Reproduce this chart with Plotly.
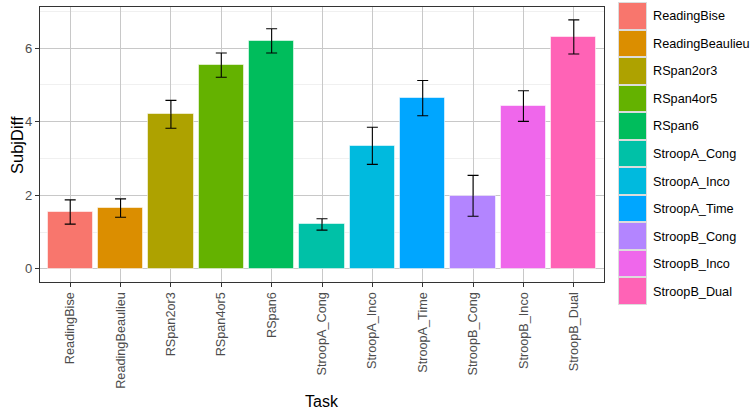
import plotly.graph_objects as go

tasks = ["ReadingBise", "ReadingBeaulieu", "RSpan2or3", "RSpan4or5", "RSpan6",
         "StroopA_Cong", "StroopA_Inco", "StroopA_Time", "StroopB_Cong",
         "StroopB_Inco", "StroopB_Dual"]
subj_diff = [1.545, 1.65, 4.20, 5.54, 6.20, 1.205, 3.345, 4.64, 1.985, 4.425, 6.305]
se = [0.33, 0.25, 0.38, 0.33, 0.33, 0.155, 0.505, 0.48, 0.555, 0.415, 0.465]
colors = ["#F8766D", "#DB8E00", "#AEA200", "#64B200", "#00BD5C", "#00C1A7",
          "#00BADE", "#00A6FF", "#B385FF", "#EF67EB", "#FF63B6"]
y_ticks = [0, 2, 4, 6]

W, H = 751, 413
L = 40
PW = W - L
font = "Liberation Sans, Arial, sans-serif"

fig = go.Figure()
fig.add_trace(go.Bar(
    x=tasks, y=subj_diff, width=0.9,
    marker=dict(color=colors, line=dict(color="rgba(255,255,255,0.55)", width=1)),
    error_y=dict(type="data", array=se, visible=True, color="black", thickness=1.1, width=5.5),
    showlegend=False, xaxis="x", yaxis="y", hoverinfo="x+y",
))
# legend drawn as a key column
fig.add_trace(go.Bar(
    y=tasks, x=[1] * len(tasks), orientation="h", width=1,
    marker=dict(color=colors, line=dict(color="#DCDCDC", width=2)),
    showlegend=False, xaxis="x2", yaxis="y2", hoverinfo="y",
))

fig.update_layout(
    width=W, height=H,
    margin=dict(l=L, r=0, t=0, b=0, autoexpand=False),
    paper_bgcolor="white", plot_bgcolor="white",
    font=dict(family=font, color="#4D4D4D"),
    xaxis=dict(
        domain=[0, (604 - L) / PW], type="category", range=[-0.6, 10.6],
        showgrid=True, gridcolor="#C8C8C8", gridwidth=1,
        showline=True, linecolor="#333333", linewidth=1.2, mirror=True,
        ticks="outside", ticklen=4, tickcolor="#333333", tickangle=-90,
        tickfont=dict(size=12.7, color="#4D4D4D", family=font),
        zeroline=False, anchor="y", automargin=False,
    ),
    yaxis=dict(
        domain=[1 - 282 / H, 1 - 7 / H], range=[-0.36, 7.12],
        tickvals=y_ticks, ticktext=[str(v) for v in y_ticks],
        showgrid=True, gridcolor="#C8C8C8", gridwidth=1,
        minor=dict(dtick=1, showgrid=True, gridcolor="#F0F0F0", gridwidth=0.7),
        showline=True, linecolor="#333333", linewidth=1.2, mirror=True,
        ticks="outside", ticklen=4, tickcolor="#333333",
        tickfont=dict(size=13, color="#4D4D4D", family=font),
        zeroline=False, anchor="x", automargin=False,
    ),
    xaxis2=dict(
        domain=[(618 - L) / PW, (647 - L) / PW], range=[0, 1],
        showgrid=False, showticklabels=False, zeroline=False, showline=False,
        anchor="y2", fixedrange=True, automargin=False,
    ),
    yaxis2=dict(
        domain=[1 - 305 / H, 1 - 2 / H], type="category", range=[10.5, -0.5],
        side="right", showgrid=False, zeroline=False, showline=False, ticks="",
        ticklabelstandoff=5,
        tickfont=dict(size=12.7, color="black", family=font),
        anchor="x2", fixedrange=True, automargin=False,
    ),
    annotations=[
        dict(text="Task", xref="paper", yref="paper",
             x=((40 + 604) / 2 - L) / PW, y=1 - 401 / H,
             xanchor="center", yanchor="middle", showarrow=False,
             font=dict(size=16, color="black", family=font)),
        dict(text="SubjDiff", xref="paper", yref="paper",
             x=(16.5 - L) / PW, y=1 - 144.5 / H, textangle=-90,
             xanchor="center", yanchor="middle", showarrow=False,
             font=dict(size=16.5, color="black", family=font)),
    ],
    bargap=0,
)

fig.write_html("out.html",
               config={"displayModeBar": False},
               post_script="document.body.style.margin='0';document.body.style.overflow='hidden';")
